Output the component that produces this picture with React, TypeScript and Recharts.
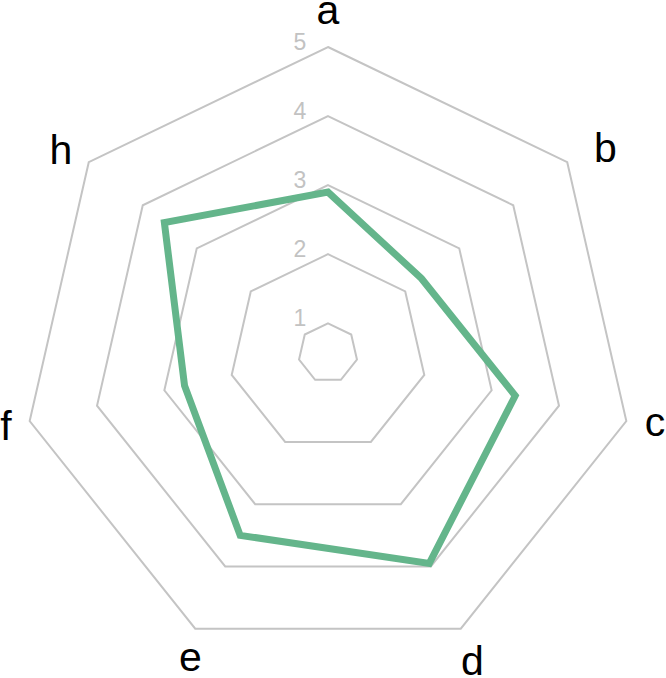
import React from "react";
import { RadarChart, PolarGrid, PolarAngleAxis, PolarRadiusAxis, Radar } from "recharts";

const axes = ["a", "b", "c", "d", "e", "f", "h"];
const values = [2.9, 2.3, 3.35, 3.95, 3.5, 2.7, 3.6];
const radiusTicks = [1, 2, 3, 4, 5];

const data = axes.map((axis, i) => ({ axis, value: values[i] }));

const CX = 328;
const CY = 353;
const OUTER = 306;
const LABEL_R = 337;
const FONT = "'Liberation Sans', Arial, Helvetica, sans-serif";
const RAD = Math.PI / 180;

// small per-label nudges (style only) to mimic the reference placement
const labelNudge: Record<string, [number, number]> = {
  a: [0, -6],
  b: [14, 5.5],
  c: [-1.5, -5.5],
  d: [-1.7, 4.4],
  e: [8.7, 0],
  f: [6.5, -2],
  h: [-3.5, 7],
};

const AngleTick = (props: any) => {
  const angle = props.payload.coordinate;
  const label = String(props.payload.value);
  const n = labelNudge[label] || [0, 0];
  const x = CX + Math.cos(-angle * RAD) * LABEL_R + n[0];
  const y = CY + Math.sin(-angle * RAD) * LABEL_R + n[1];
  return (
    <text
      x={x}
      y={y}
      textAnchor="middle"
      dominantBaseline="central"
      fontSize={41}
      fontFamily={FONT}
      fill="#000"
    >
      {label}
    </text>
  );
};

const RadiusTick = (props: any) => {
  return (
    <text
      x={props.x - 28}
      y={props.y - 5}
      textAnchor="middle"
      dominantBaseline="central"
      fontSize={23}
      fontFamily={FONT}
      fill="#c2c2c2"
    >
      {props.payload.value}
    </text>
  );
};

export default function App() {
  return (
    <div style={{ position: "absolute", left: 0, top: 0, width: 666, height: 678, background: "#fff" }}>
      <RadarChart
        width={666}
        height={678}
        data={data}
        cx={CX}
        cy={CY}
        outerRadius={OUTER}
        startAngle={90}
        endAngle={-270}
        margin={{ top: 0, right: 0, bottom: 0, left: 0 }}
      >
        <PolarGrid gridType="polygon" radialLines={false} stroke="#c4c4c4" strokeWidth={2} />
        <PolarAngleAxis dataKey="axis" tick={<AngleTick />} tickLine={false} axisLine={false} />
        <PolarRadiusAxis
          type="number"
          angle={90}
          domain={[0.57, 5]}
          ticks={radiusTicks}
          allowDataOverflow
          tick={<RadiusTick />}
          axisLine={false}
          tickLine={false}
        />
        <Radar
          dataKey="value"
          stroke="#64b58b"
          strokeWidth={7}
          strokeLinejoin="miter"
          fill="none"
          fillOpacity={0}
          dot={false}
          isAnimationActive={false}
        />
      </RadarChart>
    </div>
  );
}
